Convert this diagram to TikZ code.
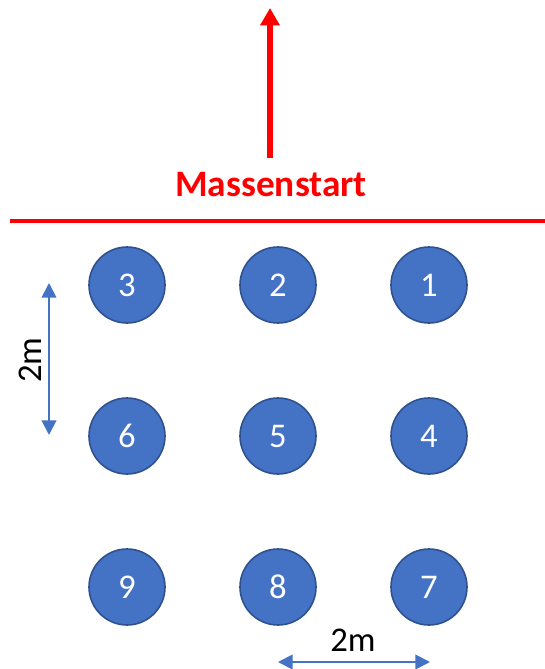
\documentclass[tikz,border=0pt]{standalone}
\usepackage{fontspec}
\setmainfont{Carlito}
\usepackage{xcolor}
\usepackage{tikz}
\usetikzlibrary{arrows.meta}
\definecolor{startred}{HTML}{FF0000}
\definecolor{runner}{HTML}{4472C4}
\definecolor{runnerdark}{HTML}{2F528F}
\tikzset{
  startLine/.style={draw=startred, line width=3pt},
  startArrow/.style={-{Triangle[length=13pt, width=14pt]}, draw=startred, line width=4.5pt},
  startText/.style={text=startred, font=\fontsize{28}{33}\selectfont\bfseries},
  runnerDot/.style={circle, fill=runner, draw=runnerdark, line width=1.2pt,
    minimum size=57pt, inner sep=0pt, text=white, font=\fontsize{26}{30}\selectfont},
  dimArrow/.style={{Triangle[length=11pt, width=11pt]}-{Triangle[length=11pt, width=11pt]},
    draw=runner, line width=1.5pt},
  dimText/.style={text=black, font=\fontsize{26}{30}\selectfont}
}

\begin{document}
\begin{tikzpicture}[x=0.75pt, y=-0.75pt]
  \useasboundingbox (0,0) rectangle (545,669);

  \coordinate (L) at (10,221);
  \coordinate (R) at (545,221);
  \coordinate (Go) at (270,158);
  \coordinate (Tip) at (270,8);

  \draw[startLine] (L)--(R);
  \draw[startArrow] (Go)--(Tip);
  \node[startText] (start) at (271,185) {Massenstart};

  \node[runnerDot] (r3) at (127,285) {3};
  \node[runnerDot] (r2) at (278,285) {2};
  \node[runnerDot] (r1) at (429,285) {1};
  \node[runnerDot] (r6) at (127,436) {6};
  \node[runnerDot] (r5) at (278,436) {5};
  \node[runnerDot] (r4) at (429,436) {4};
  \node[runnerDot] (r9) at (127,587) {9};
  \node[runnerDot] (r8) at (278,587) {8};
  \node[runnerDot] (r7) at (429,587) {7};

  \coordinate (V1) at (49,283);
  \coordinate (V2) at (49,435);
  \coordinate (H1) at (278,662);
  \coordinate (H2) at (430,662);

  \draw[dimArrow] (V1)--(V2);
  \node[dimText, rotate=90] (dimV) at (30,360) {2m};
  \draw[dimArrow] (H1)--(H2);
  \node[dimText] (dimH) at (353,640) {2m};
\end{tikzpicture}
\end{document}
